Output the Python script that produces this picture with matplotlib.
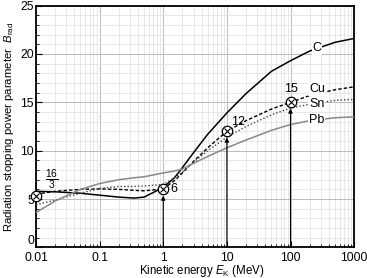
import matplotlib
matplotlib.use("Agg")
import matplotlib.pyplot as plt
from matplotlib.ticker import FixedLocator, FuncFormatter, MultipleLocator, LogLocator

plt.rcParams["font.family"] = ["Liberation Sans", "DejaVu Sans"]
plt.rcParams["mathtext.fontset"] = "custom"
plt.rcParams["mathtext.it"] = "Liberation Sans:italic"
plt.rcParams["mathtext.rm"] = "Liberation Sans"

# kinetic energy grid (MeV) and B_rad values
energy = [0.01, 0.02, 0.05, 0.1, 0.2, 0.35, 0.5, 1, 1.5, 2, 3, 5, 10, 20, 50, 100, 200, 500, 1000]
b_c = [5.8, 5.75, 5.6, 5.4, 5.2, 5.1, 5.2, 6.2, 7.2, 8.25, 9.8, 11.7, 13.9, 15.9, 18.2, 19.3, 20.3, 21.2, 21.6]
b_cu = [5.5, 5.8, 6.0, 6.05, 6.0, 5.9, 5.85, 6.05, 6.9, 7.7, 8.9, 10.3, 12.0, 13.1, 14.3, 15.0, 15.7, 16.3, 16.6]
b_sn = [4.4, 4.9, 5.6, 6.1, 6.3, 6.3, 6.35, 6.5, 7.2, 7.8, 8.8, 10.0, 11.4, 12.5, 13.7, 14.4, 14.8, 15.2, 15.3]
b_pb = [3.6, 4.8, 6.0, 6.6, 7.0, 7.2, 7.3, 7.7, 7.9, 8.1, 8.7, 9.4, 10.3, 11.1, 12.1, 12.7, 13.1, 13.4, 13.5]

# circled reference points
ref_e = [0.01, 1, 10, 100]
ref_b = [16 / 3, 6, 12, 15]
arrow_e = [1, 10, 100]
arrow_b = [6, 12, 15]

x_ticks = [0.01, 0.1, 1, 10, 100, 1000]
y_ticks = [0, 5, 10, 15, 20, 25]

fig = plt.figure(figsize=(3.67, 2.78), dpi=100)
ax = fig.add_axes([0.098, 0.110, 0.867, 0.870])

ax.plot(energy, b_c, color="black", lw=1.1, zorder=3)
ax.plot(energy, b_cu, color="black", lw=1.0, ls=(0, (2.5, 1.5)), zorder=3)
ax.plot(energy, b_sn, color="#444444", lw=1.0, ls=(0, (1, 1.5)), zorder=3)
ax.plot(energy, b_pb, color="#888888", lw=1.1, zorder=3)

for e, b in zip(arrow_e, arrow_b):
    ax.annotate("", xy=(e, b), xytext=(e, 0),
                arrowprops=dict(arrowstyle="-|>", lw=0.8, color="black",
                                mutation_scale=6, shrinkA=0, shrinkB=4.5),
                zorder=4)

ax.plot(ref_e, ref_b, ls="none", marker="o", ms=7.5, mfc="white", mec="black",
        mew=0.9, zorder=5, clip_on=False)
ax.plot(ref_e, ref_b, ls="none", marker="x", ms=4.5, mec="black", mew=0.8,
        zorder=6, clip_on=False)

ax.text(1.3, 6, "6", fontsize=9, va="center", ha="left")
ax.text(11.5, 13.0, "12", fontsize=9, va="center", ha="left")
ax.text(100, 16.4, "15", fontsize=9, va="center", ha="center")
ax.text(0.0175, 7.0, r"$\frac{16}{3}$", fontsize=10.5, va="center", ha="center")

box = dict(facecolor="white", edgecolor="none", pad=0.6)
for lab, yv in [("C", 20.6), ("Cu", 16.4), ("Sn", 14.85), ("Pb", 13.15)]:
    ax.text(260, yv, lab, fontsize=9, va="center", ha="center", bbox=box, zorder=4)

ax.set_xscale("log")
ax.set_xlim(0.01, 1000)
ax.set_ylim(0, 25)
ax.xaxis.set_major_locator(FixedLocator(x_ticks))
ax.xaxis.set_minor_locator(LogLocator(base=10, subs=range(2, 10)))
ax.xaxis.set_major_formatter(FuncFormatter(lambda v, p: f"{v:g}"))
ax.yaxis.set_major_locator(FixedLocator(y_ticks))
ax.yaxis.set_minor_locator(MultipleLocator(1))

ax.grid(which="major", color="#bbbbbb", lw=0.7, zorder=0)
ax.grid(which="minor", color="#e3e3e3", lw=0.6, zorder=0)
ax.set_axisbelow(True)

ax.tick_params(which="both", direction="in", labelsize=8.7, top=False, right=False)
ax.tick_params(axis="x", pad=3.5)
ax.tick_params(axis="y", pad=1.5)
ax.tick_params(which="major", length=4, width=0.8)
ax.tick_params(which="minor", length=2, width=0.6)
for s in ax.spines.values():
    s.set_linewidth(1.3)

# the "0" label sits just above the corner, clear of "0.01"
ax.yaxis.get_major_ticks()[0].label1.set_verticalalignment("bottom")

ax.set_xlabel(r"Kinetic energy $E_{\rm K}$ (MeV)", fontsize=8.3)
ax.xaxis.set_label_coords(0.52, -0.066)
ax.set_ylabel(r"Radiation stopping power parameter  $B_{\rm rad}$", fontsize=8.2)
ax.yaxis.set_label_coords(-0.064, 0.5)

fig.savefig("out.png", dpi=100)
